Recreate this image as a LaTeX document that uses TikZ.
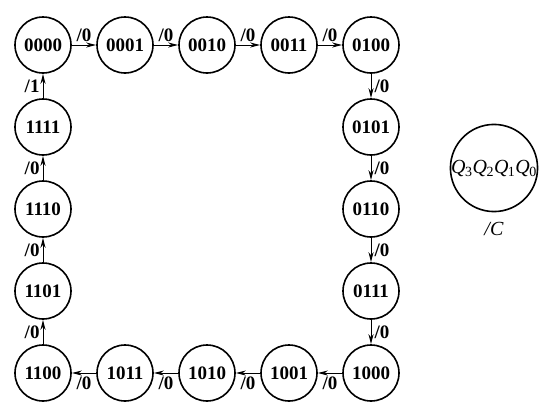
\documentclass[tikz,border=0pt]{standalone}
\usepackage{fontspec}
\setmainfont{Liberation Serif}
\usetikzlibrary{arrows.meta}
\tikzset{
  st/.style={circle,draw,line width=1.6pt,minimum size=56pt,inner sep=0pt,font=\fontsize{19}{20}\selectfont\bfseries},
  big/.style={circle,draw,line width=1.6pt,minimum size=86pt,inner sep=0pt,font=\fontsize{20}{20}\selectfont},
  arr/.style={line width=1pt,-{Stealth[length=10pt,width=5pt,inset=3pt]}},
  lab/.style={font=\fontsize{19}{20}\selectfont\bfseries,inner sep=1pt}
}
\newcommand{\qq}[1]{\textit{Q}\kern-0.5pt\textsubscript{#1}}
\begin{document}
\begin{tikzpicture}[x=1pt,y=-1pt]
\useasboundingbox (0,0) rectangle (549,410);
% top row
\node[st] (s0) at (43,45) {0000};
\node[st] (s1) at (125,45) {0001};
\node[st] (s2) at (207,45) {0010};
\node[st] (s3) at (289,45) {0011};
\node[st] (s4) at (371,45) {0100};
% right column
\node[st] (s5) at (371,127) {0101};
\node[st] (s6) at (371,209) {0110};
\node[st] (s7) at (371,291) {0111};
\node[st] (s8) at (371,373) {1000};
% bottom row
\node[st] (s9) at (289,373) {1001};
\node[st] (s10) at (207,373) {1010};
\node[st] (s11) at (125,373) {1011};
\node[st] (s12) at (43,373) {1100};
% left column
\node[st] (s13) at (43,291) {1101};
\node[st] (s14) at (43,209) {1110};
\node[st] (s15) at (43,127) {1111};
% legend
\node[big] (leg) at (494,168) {\qq{3}\qq{2}\qq{1}\qq{0}};
\node[font=\fontsize{20}{20}\selectfont] (legl) at (494,229) {\textit{/C}};
% arrows
\draw[arr] (s0) -- node[lab,above=2pt] {/0} (s1);
\draw[arr] (s1) -- node[lab,above=2pt] {/0} (s2);
\draw[arr] (s2) -- node[lab,above=2pt] {/0} (s3);
\draw[arr] (s3) -- node[lab,above=2pt] {/0} (s4);
\draw[arr] (s4) -- node[lab,right=2pt] {/0} (s5);
\draw[arr] (s5) -- node[lab,right=2pt] {/0} (s6);
\draw[arr] (s6) -- node[lab,right=2pt] {/0} (s7);
\draw[arr] (s7) -- node[lab,right=2pt] {/0} (s8);
\draw[arr] (s8) -- node[lab,below=2pt] {/0} (s9);
\draw[arr] (s9) -- node[lab,below=2pt] {/0} (s10);
\draw[arr] (s10) -- node[lab,below=2pt] {/0} (s11);
\draw[arr] (s11) -- node[lab,below=2pt] {/0} (s12);
\draw[arr] (s12) -- node[lab,left=2pt] {/0} (s13);
\draw[arr] (s13) -- node[lab,left=2pt] {/0} (s14);
\draw[arr] (s14) -- node[lab,left=2pt] {/0} (s15);
\draw[arr] (s15) -- node[lab,left=2pt] {/1} (s0);
\end{tikzpicture}
\end{document}
